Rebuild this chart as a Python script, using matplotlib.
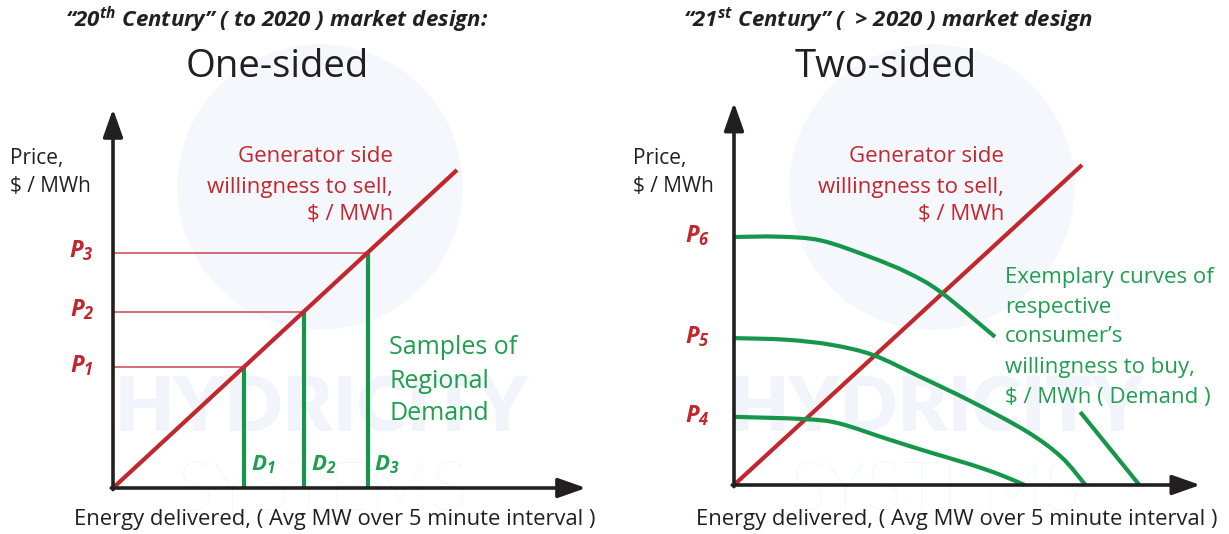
import numpy as np
import matplotlib
matplotlib.use("Agg")
import matplotlib.pyplot as plt
from matplotlib.patches import Circle, PathPatch
from matplotlib.path import Path

# ---- data -------------------------------------------------------------
# generator offer curve (same in both panels), in relative units
supply_q = [0.0, 10.0]
supply_p = [0.0, 10.0]

# one-sided design: sampled regional demand quantities
demand_samples = [3.8, 5.55, 7.4]
demand_sample_labels = ["1", "2", "3"]

# two-sided design: consumer willingness-to-buy curves
demand6_q = [0.0, 1.3, 2.5, 3.9, 5.0, 5.95, 7.5]
demand6_p = [7.75, 7.76, 7.64, 7.13, 6.63, 6.02, 4.63]

demand5_q = [0.0, 1.5, 2.8, 4.0, 5.35, 6.8, 8.4, 9.4, 10.1]
demand5_p = [4.59, 4.54, 4.38, 4.06, 3.38, 2.62, 1.68, 0.88, 0.0]

demand4_q = [0.0, 2.0, 3.0, 4.4, 5.6, 6.8, 7.65, 8.35]
demand4_p = [2.13, 2.06, 1.93, 1.44, 1.03, 0.64, 0.32, 0.0]

demand_extra_q = [9.95, 11.65]
demand_extra_p = [2.28, 0.0]

price_labels_right = ["6", "5", "4"]
price_levels_right = [demand6_p[0], demand5_p[0], demand4_p[0]]

# ---- styling ------------------------------------------------------------
W, H = 1229, 534
RED = "#c1272d"
RED_THIN = "#d4606b"
GREEN = "#16964a"
GREEN_TXT = "#1f9e4e"
INK = "#231f20"
FONT = "Open Sans"

plt.rcParams["font.family"] = [FONT, "DejaVu Sans"]
plt.rcParams["mathtext.fontset"] = "custom"
plt.rcParams["mathtext.rm"] = f"{FONT}:italic:bold"
plt.rcParams["mathtext.it"] = f"{FONT}:italic:bold"
plt.rcParams["mathtext.bf"] = f"{FONT}:italic:bold"

fig = plt.figure(figsize=(W / 100, H / 100), dpi=100)


def fpos(x, y):
    """pixel position (top-left origin) -> figure fraction"""
    return x / W, 1 - y / H


def make_panel(x0, x1, origin, sx, sy):
    ax = fig.add_axes([x0 / W, 0, (x1 - x0) / W, 1])
    ox, oy = origin
    ax.set_xlim((x0 - ox) / sx, (x1 - ox) / sx)
    ax.set_ylim((oy - H) / sy, oy / sy)
    ax.axis("off")
    return ax


def smooth_curve(ax, xs, ys, **kw):
    """Draw a smooth cubic spline path through the given points."""
    pts = np.column_stack([xs, ys]).astype(float)
    n = len(pts)
    verts = [pts[0]]
    codes = [Path.MOVETO]
    for i in range(n - 1):
        p0 = pts[max(i - 1, 0)]
        p1 = pts[i]
        p2 = pts[i + 1]
        p3 = pts[min(i + 2, n - 1)]
        c1 = p1 + (p2 - p0) / 6.0
        c2 = p2 - (p3 - p1) / 6.0
        verts += [c1, c2, p2]
        codes += [Path.CURVE4] * 3
    patch = PathPatch(Path(verts, codes), fill=False, capstyle="butt",
                      joinstyle="round", **kw)
    ax.add_patch(patch)


def watermark(cx, cy, r, word_x, word_y, sys_x, sys_y):
    circ = Circle((cx / 100, (H - cy) / 100), r / 100,
                  transform=fig.dpi_scale_trans, color="#f4f7fc", zorder=-5)
    fig.patches.append(circ)
    fig.text(*fpos(word_x, word_y), "HYDRICITY", fontsize=55,
             fontweight="heavy", color="#f1f5fb", ha="center", va="center",
             zorder=-4, family="Lato")
    fig.text(*fpos(sys_x, sys_y), "SYSTEMS", fontsize=50, fontweight="light",
             color="#ecf6fa", ha="center", va="center", zorder=-4,
             family="Lato")


def axes_arrows(ax, xtip, ytip):
    kw = dict(arrowstyle="-|>,head_length=1.7,head_width=0.6",
              color=INK, lw=2.6, shrinkA=0, shrinkB=0)
    ax.annotate("", xy=(xtip, 0), xytext=(-0.05, 0), arrowprops=kw, zorder=5)
    ax.annotate("", xy=(0, ytip), xytext=(0, -0.05), arrowprops=kw, zorder=5)


# ---- left panel: one-sided ------------------------------------------------
watermark(320, 187, 142, 322, 409, 322, 492)
axL = make_panel(0, 614, (113, 488), 34.4, 31.8)

sample_prices = np.interp(demand_samples, supply_q, supply_p)
for q, p in zip(demand_samples, sample_prices):
    axL.plot([0, q], [p, p], color=RED_THIN, lw=1.3, zorder=2,
             solid_capstyle="butt")
    axL.plot([q, q], [0, p], color=GREEN, lw=3.0, zorder=3,
             solid_capstyle="butt")
axL.plot(supply_q, supply_p, color=RED, lw=3.0, zorder=4,
         solid_capstyle="butt")
axes_arrows(axL, 13.75, 11.92)

for i, (q, p) in enumerate(zip(demand_samples, sample_prices)):
    axL.text(-0.55, p + 0.05, f"$P_{{{i + 1}}}$", color=RED, fontsize=17,
             ha="right", va="center")
    axL.text(q + 0.2, 0.72, f"$D_{{{demand_sample_labels[i]}}}$",
             color=GREEN_TXT, fontsize=16, ha="left", va="center")

gen_lines = ["Generator side", "willingness to sell,", "$ / MWh"]
for txt, y in zip(gen_lines, [156, 187, 215]):
    fig.text(*fpos(393, y), txt, color=RED, fontsize=16,
             ha="right", va="center")
for txt, y in zip(["Samples of", "Regional", "Demand"], [347, 381, 413]):
    fig.text(*fpos(389, y), txt, color=GREEN_TXT, fontsize=18,
             ha="left", va="center")

fig.text(*fpos(10, 158), "Price,", color=INK, fontsize=15, va="center")
fig.text(*fpos(10, 186), "$ / MWh", color=INK, fontsize=15, va="center")
fig.text(*fpos(335, 520), "Energy delivered, ( Avg MW over 5 minute interval )",
         color=INK, fontsize=15.8, ha="center", va="center")
fig.text(*fpos(277, 20),
         r"“20$^{\mathrm{th}}$ Century” ( to 2020 ) market design:",
         color=INK, fontsize=16, fontweight="bold", style="italic",
         ha="center", va="center")
fig.text(*fpos(277, 67), "One-sided", color=INK, fontsize=27.5,
         ha="center", va="center")

# ---- right panel: two-sided -----------------------------------------------
watermark(932, 187, 142, 937, 409, 935, 492)
axR = make_panel(614, W, (734, 485), 34.8, 32.0)

axR.plot(supply_q, supply_p, color=RED, lw=3.0, zorder=3,
         solid_capstyle="butt")
for qs, ps in [(demand6_q, demand6_p), (demand5_q, demand5_p),
               (demand4_q, demand4_p), (demand_extra_q, demand_extra_p)]:
    smooth_curve(axR, qs, ps, edgecolor=GREEN, lw=3.0, zorder=4)
axes_arrows(axR, 13.4, 11.95)

for lab, p in zip(price_labels_right, price_levels_right):
    axR.text(-0.7, p + 0.05, f"$P_{{{lab}}}$", color=RED, fontsize=17,
             ha="right", va="center")

for txt, y in zip(gen_lines, [156, 187, 215]):
    fig.text(*fpos(1004, y), txt, color=RED, fontsize=16,
             ha="right", va="center")
for txt, y in zip(["Exemplary curves of", "respective", "consumer’s",
                   "willingness to buy,", "$ / MWh ( Demand )"],
                  [278, 308, 337, 367, 397]):
    fig.text(*fpos(1005, y), txt, color=GREEN_TXT, fontsize=16,
             ha="left", va="center")

fig.text(*fpos(633, 158), "Price,", color=INK, fontsize=15, va="center")
fig.text(*fpos(633, 186), "$ / MWh", color=INK, fontsize=15, va="center")
fig.text(*fpos(957, 520), "Energy delivered, ( Avg MW over 5 minute interval )",
         color=INK, fontsize=15.8, ha="center", va="center")
fig.text(*fpos(888, 20),
         r"“21$^{\mathrm{st}}$ Century” (  > 2020 ) market design",
         color=INK, fontsize=16, fontweight="bold", style="italic",
         ha="center", va="center")
fig.text(*fpos(886, 67), "Two-sided", color=INK, fontsize=27.5,
         ha="center", va="center")

fig.savefig("out.png", dpi=100, facecolor="white")
